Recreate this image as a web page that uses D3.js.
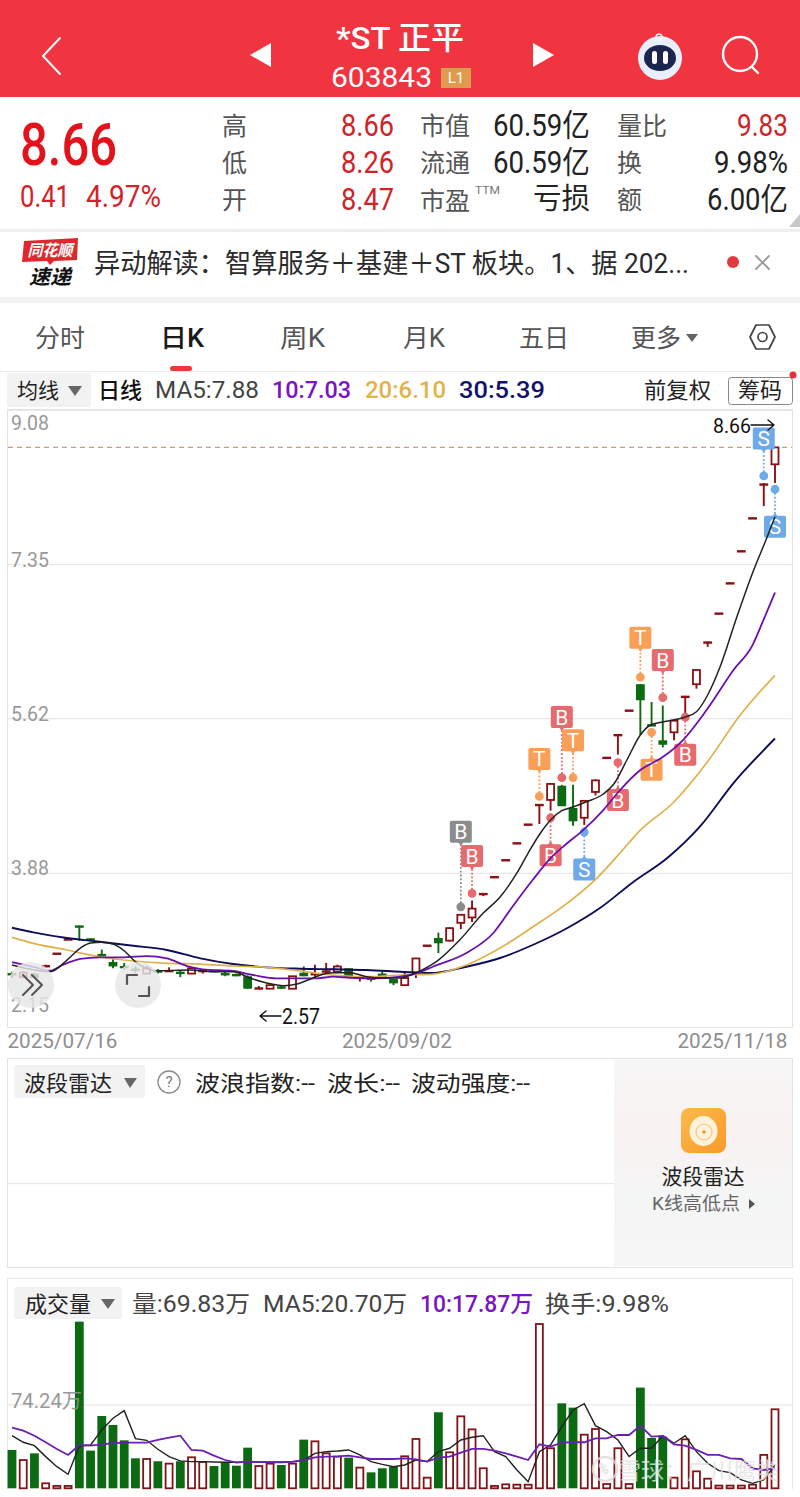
<!DOCTYPE html>
<html><head><meta charset="utf-8">
<script src="https://cdn.jsdelivr.net/npm/d3@7/dist/d3.min.js"></script>
<style>html,body{margin:0;padding:0;background:#fff}svg{display:block}</style>
</head><body><div id="c"></div>
<script>
// ---------- data ----------
const openP =[2.76,2.71,2.75,2.82,2.97,3.13,3.29,3.15,2.97,2.88,2.84,2.80,2.75,2.79,2.77,2.77,2.75,2.77,2.79,2.76,2.75,2.72,2.57,2.58,2.61,2.58,2.76,2.73,2.76,2.77,2.81,2.70,2.71,2.75,2.69,2.62,2.76,3.06,3.15,3.12,3.32,3.38,3.64,3.83,4.02,4.21,4.42,4.64,4.70,4.86,4.61,4.50,4.79,5.17,5.42,5.70,6.00,5.55,5.37,5.46,5.85,6.00,6.46,6.79,7.13,7.49,7.86,8.24,8.47];
const closeP=[2.73,2.76,2.70,2.85,2.98,3.14,3.27,3.12,2.95,2.83,2.81,2.79,2.81,2.76,2.79,2.75,2.81,2.79,2.77,2.73,2.72,2.58,2.60,2.62,2.58,2.72,2.72,2.76,2.79,2.83,2.71,2.71,2.68,2.70,2.64,2.70,2.92,3.07,3.09,3.26,3.41,3.48,3.65,3.84,4.03,4.22,4.43,4.65,4.88,4.63,4.46,4.69,4.92,5.18,5.44,5.71,5.82,5.53,5.32,5.59,5.87,6.16,6.48,6.80,7.14,7.50,7.87,8.25,8.66];
const highP =[2.77,2.78,2.76,2.85,2.98,3.14,3.29,3.15,3.02,2.91,2.87,2.83,2.84,2.80,2.82,2.78,2.82,2.79,2.79,2.77,2.75,2.73,2.61,2.63,2.62,2.72,2.83,2.85,2.87,2.85,2.81,2.71,2.72,2.77,2.69,2.76,2.92,3.07,3.21,3.27,3.41,3.57,3.65,3.84,4.03,4.22,4.43,4.65,4.89,4.87,4.87,4.69,4.93,5.18,5.44,5.71,6.00,5.80,5.76,5.59,5.87,6.16,6.48,6.80,7.14,7.50,7.87,8.26,8.66];
const lowP  =[2.70,2.71,2.70,2.82,2.97,3.13,3.12,3.12,2.95,2.81,2.79,2.75,2.75,2.75,2.77,2.71,2.75,2.75,2.77,2.72,2.72,2.58,2.57,2.58,2.58,2.58,2.72,2.70,2.75,2.76,2.71,2.66,2.66,2.70,2.62,2.62,2.70,3.06,2.98,3.11,3.25,3.33,3.62,3.83,4.02,4.21,4.42,4.43,4.58,4.63,4.41,4.42,4.75,5.17,5.21,5.70,5.43,5.53,5.29,5.37,5.64,5.95,6.42,6.79,7.13,7.49,7.86,8.00,8.26];
const volume=[33.9,25.0,30.9,4.4,2.1,2.1,147.3,33.3,63.9,56.0,42.4,26.5,25.9,23.9,21.8,23.9,27.4,23.3,19.7,22.7,20.0,35.9,19.7,21.8,20.6,21.8,43.0,41.5,30.9,28.0,27.1,18.3,14.1,17.7,19.1,28.3,43.6,9.4,67.2,31.8,63.6,52.1,17.7,2.1,3.5,3.2,3.2,145.2,35.4,75.1,71.3,47.4,52.4,3.8,35.4,3.8,89.0,44.5,45.7,9.4,43.3,15.0,8.5,2.4,2.4,2.4,3.2,29.5,69.83];
const volMA5=[46.5,40.7,37.7,28.0,19.1,12.4,37.4,38.3,51.6,61.9,68.6,43.9,42.4,34.5,28.0,24.2,23.6,23.6,23.3,23.0,23.0,23.3,23.3,23.3,23.3,23.6,25.0,30.9,32.4,33.0,33.9,29.5,23.6,21.2,19.1,20.6,25.0,23.6,32.4,35.4,42.7,45.1,46.5,32.4,28.0,16.2,5.9,32.4,38.3,54.5,69.2,74.8,55.4,50.1,42.7,28.0,35.4,35.4,46.5,39.8,46.5,32.4,22.1,15.6,13.8,7.4,4.4,7.4,20.7];
const volMA10=[53.6,51.0,46.5,40.7,34.8,29.5,38.3,37.7,38.9,39.8,40.4,40.4,40.4,42.7,44.8,46.5,33.9,33.3,28.9,25.0,22.7,23.6,23.3,23.0,23.0,23.3,25.0,27.4,28.0,28.3,28.9,27.4,25.9,25.9,25.9,26.5,25.6,23.6,27.1,28.0,31.5,34.8,34.8,33.3,30.9,28.0,25.0,38.9,36.8,40.4,40.7,40.7,44.2,44.2,47.1,47.1,55.4,45.7,46.3,38.9,37.7,33.9,29.5,29.5,26.5,25.9,17.7,16.2,17.87];
const ma5Day=[0,3.4,4.9,6.1,7,8,9,10.1,11,11.7,12.9,15.9,17.9,19.7,21.2,22.7,24.2,25.4,26.6,27.5,28.6,30.1,31.6,33.1,34.6,35.7,37.1,38,39.9,42,43.5,45,46,47.1,48,49,50,51.2,52.7,53.7,54.8,56,56.9,58,60,61,62,63.1,64.6,66,67.3,68];
const ma5Val=[2.846,2.771,2.902,3.037,3.093,3.101,3.082,2.995,2.883,2.824,2.782,2.79,2.771,2.771,2.70,2.644,2.614,2.633,2.689,2.734,2.76,2.76,2.715,2.70,2.70,2.742,2.827,2.902,3.127,3.43,3.61,3.88,4.104,4.329,4.475,4.58,4.621,4.68,4.767,4.89,5.149,5.43,5.542,5.576,5.632,5.691,5.879,6.193,6.755,7.249,7.653,7.88];
const ma10Day=[0,1.9,3.4,4.5,6.1,7.8,9.9,12,13.8,15.6,17,19.7,21.5,23.6,25.7,27.2,28.6,30.1,32.5,34.6,36.1,37.5,40.5,42.9,44.6,46.4,48,49.5,50.9,52.7,54.2,56,58,59.8,61.9,64.3,66,66.9,68];
const ma10Val=[2.88,2.824,2.782,2.846,2.914,2.933,2.933,2.947,2.921,2.835,2.798,2.779,2.734,2.697,2.697,2.697,2.715,2.703,2.697,2.715,2.756,2.827,2.981,3.206,3.501,3.801,4.048,4.216,4.362,4.587,4.812,5.036,5.182,5.373,5.71,6.16,6.44,6.70,7.03];
const ma20Day=[0,1.9,4.9,7.8,10.8,13.8,16.8,19.7,22.7,25,27.2,28.6,31.6,34.6,37.3,40.5,43.5,46.4,49.5,51.8,53.9,56,58.9,61.9,64.9,68];
const ma20Val=[3.157,3.09,3.015,2.939,2.891,2.865,2.857,2.835,2.82,2.79,2.753,2.734,2.715,2.734,2.742,2.846,3.037,3.273,3.542,3.782,4.063,4.362,4.666,5.115,5.654,6.10];
const ma30Day=[0,1.9,4.9,7.8,10.8,13.8,16.8,19.7,22.7,25.7,28.6,31.6,34.6,37.3,40.5,43.5,46.4,49.5,52.4,55.4,58.4,61.3,64.3,68];
const ma30Val=[3.265,3.213,3.149,3.108,3.063,3.015,2.921,2.857,2.82,2.805,2.798,2.79,2.771,2.756,2.827,2.925,3.071,3.262,3.486,3.782,4.048,4.40,4.89,5.39];
const priceTicks=[9.08,7.35,5.62,3.88,2.15];
const dateTickDay=[0,34,68];
const dateLabels=["2025/07/16","2025/09/02","2025/11/18"];
const markerDay =[40,41,47,49,50,48,51,54,56,58,57,60,67,68];
const markerText=["B","B","T","B","T","B","S","B","T","B","T","B","S","S"];
const markerKind=["grey","buy","trade","buy","trade","buy","sell","buy","trade","buy","trade","buy","sell","sell"];
const markerPrice=[3.50,3.65,4.74,4.95,4.95,4.50,4.34,5.12,6.08,5.85,5.46,5.63,8.34,8.19];
const markerSide=[1,1,1,1,1,-1,-1,-1,1,1,-1,-1,1,-1];
const markerLift=[2,1,1,1.62,1,1,1,1,1.05,1,1,1,1,1];

// ---------- layout and helpers ----------
const W=800,H=1497,SANS="Roboto,'Noto Sans CJK SC',sans-serif";
const svg=d3.select("#c").append("svg").attr("width",W).attr("height",H).attr("viewBox",`0 0 ${W} ${H}`);
function T(x,y,s,size,fill,o={}){
  const e=(o.parent||svg).append("text").attr("x",x).attr("y",y).attr("dy","0.36em").text(s)
   .attr("font-family",o.font||SANS).attr("font-size",size).attr("fill",fill).attr("text-anchor",o.anchor||"start");
  if(o.w){e.attr("textLength",o.w).attr("lengthAdjust","spacingAndGlyphs");}
  if(o.weight)e.attr("font-weight",o.weight);
  if(o.style)e.attr("font-style",o.style);
  if(o.op!=null)e.attr("opacity",o.op);
  return e;
}
const R=(x,y,w,h,f,o={})=>svg.append("rect").attr("x",x).attr("y",y).attr("width",w).attr("height",h).attr("fill",f).attr("rx",o.rx||0).attr("stroke",o.s||"none").attr("stroke-width",o.sw||1);
const P=(d,f,s,sw,par)=>(par||svg).append("path").attr("d",d).attr("fill",f||"none").attr("stroke",s||"none").attr("stroke-width",sw||1).attr("stroke-linejoin","round").attr("stroke-linecap","round");

// ---------- header ----------
const RED="#f03440", DARK="#222", MID="#555";
R(0,0,W,97,RED);
P("M60,38 L43,56 L60,74",null,"#fff",2);
P("M271,43 L250,55 L271,67 Z","#fff");
P("M533,43 L554,55 L533,67 Z","#fff");
T(400,37,"*ST 正平",32,"#fff",{anchor:"middle",weight:500,w:128});
T(331,77,"603843",28,"#fff",{w:101});
R(441,68,30,20,"#e09a4e");
T(456,78,"L1",15,"#fff",{anchor:"middle"});
svg.append("circle").attr("cx",660).attr("cy",58).attr("r",22).attr("fill","#e8eefb");
svg.append("ellipse").attr("cx",660).attr("cy",58).attr("rx",16).attr("ry",13).attr("fill","#1c2550");
svg.append("rect").attr("x",652).attr("y",51).attr("width",5).attr("height",13).attr("rx",2.5).attr("fill","#fff");
svg.append("rect").attr("x",663).attr("y",51).attr("width",5).attr("height",13).attr("rx",2.5).attr("fill","#fff");
P("M656,37 a3,3 0 1 1 0,0.1",null,"#fff",1.5);
svg.append("circle").attr("cx",740).attr("cy",54).attr("r",17).attr("fill","none").attr("stroke","#fff").attr("stroke-width",2.4);
P("M752,67 L758,73",null,"#fff",2.4);

// ---------- quote block ----------
T(20,144,"8.66",59,"#e3131c",{w:97,weight:500});
T(20,196,"0.41",31,"#d5222a",{w:50});
T(86,196,"4.97%",31,"#d5222a",{w:75});
[["高",126],["低",163],["开",200]].forEach(d=>T(222,d[1],d[0],25,MID));
[["8.66",125],["8.26",162],["8.47",199]].forEach(d=>T(341,d[1],d[0],31,"#cf2329",{w:53}));
[["市值",126],["流通",163],["市盈",201]].forEach(d=>T(420,d[1],d[0],25,MID));
T(475,190,"TTM",11,"#777",{w:25});
T(493,125,"60.59亿",31,DARK,{w:97});
T(493,162,"60.59亿",31,DARK,{w:97});
T(533,199,"亏损",29,DARK,{w:57});
T(617,126,"量比",25,MID);
T(617,163,"换",25,MID);
T(617,200,"额",25,MID);
T(737,125,"9.83",31,"#cf2329",{w:51});
T(714,162,"9.98%",31,DARK,{w:74});
T(707,199,"6.00亿",31,DARK,{w:81});
P("M800,214 L800,227 L789,227 Z","#c8c8c8");
R(0,229,W,3,"#efefef");

// ---------- news banner ----------
P("M24,241 L78,238 L77,260 L54,261 L50,265 L47,261 L22,262 Z","#e0272e");
T(50,250,"同花顺",16,"#fff",{anchor:"middle",style:"italic",weight:700,w:45});
T(50,277,"速递",20,"#111",{anchor:"middle",style:"italic",weight:700,w:42});
T(94,263,"异动解读：智算服务＋基建＋ST 板块。1、据 202...",27,"#2b2b2b",{w:595});
svg.append("circle").attr("cx",733).attr("cy",262).attr("r",6).attr("fill","#e33a40");
P("M756,256 L769,269 M769,256 L756,269",null,"#999",1.8);
R(0,297,W,6,"#f2f2f2");

// ---------- tabs ----------
[["分时",35,50],["周K",280,45],["月K",403,42],["五日",519,50],["更多",631,50]].forEach(d=>T(d[1],338,d[0],25,"#555",{w:d[2]}));
T(160,338,"日K",25,"#1a1a1a",{w:44,weight:500});
P("M686,334 L698,334 L692,342 Z","#666");
P("M750,337 L756,325 L769,325 L775,337 L769,349 L756,349 Z",null,"#444",1.7);
svg.append("circle").attr("cx",762.5).attr("cy",337).attr("r",4.5).attr("fill","none").attr("stroke","#444").attr("stroke-width",1.7);
R(170,366,22,5,"#e63c3c",{rx:2.5});
R(0,371,W,1,"#ececec");

// ---------- indicator row ----------
R(7,373,84,34,"#f2f2f2",{rx:3});
T(17,390,"均线",21,"#222");
P("M68,386 L82,386 L75,396 Z","#666");
T(98,390,"日线",22,"#111",{weight:500});
T(155,390,"MA5:7.88",23,"#444",{w:104});
T(272,390,"10:7.03",23,"#7a14c4",{w:79,weight:500});
T(365,390,"20:6.10",23,"#e3b34a",{w:81,weight:500});
T(459,390,"30:5.39",23,"#12126e",{w:86,weight:500});
T(644,390,"前复权",22,"#222",{w:67});
R(728.5,377.5,64,27,"#fff",{rx:3,s:"#888",sw:1});
T(760,390,"筹码",22,"#222",{anchor:"middle",w:44});
svg.append("circle").attr("cx",793).attr("cy",375).attr("r",3.5).attr("fill","#e5303a");

// ---------- price panel ----------
const xDay=d3.scaleLinear().domain([0,68]).range([12,775]);
const yPrice=d3.scaleLinear().domain([2.15,9.08]).range([1027,410]);
R(7.5,409.5,785,618,"#fff",{s:"#e4e4e4",sw:1.2});
const gridAxis=d3.axisRight(yPrice).tickValues(priceTicks).tickSize(785).tickFormat(d3.format(".2f"));
const gA=svg.append("g").attr("transform","translate(7.5,0)").call(gridAxis);
gA.select(".domain").remove();
gA.selectAll(".tick line").attr("stroke","#e8e8e8").attr("stroke-width",1.2);
gA.selectAll(".tick text").attr("x",3.5).attr("font-family",SANS).attr("font-size",20).attr("fill","#999")
  .attr("textLength",38).attr("lengthAdjust","spacingAndGlyphs")
  .attr("dy",(d,i)=>i===0?"0.95em":i===4?"-0.8em":"0.1em");
svg.append("line").attr("x1",8).attr("x2",792).attr("y1",yPrice(closeP[68])).attr("y2",yPrice(closeP[68])).attr("stroke","#c89b82").attr("stroke-width",1.1).attr("stroke-dasharray","5 4");

const CAND_UP="#8a1014",CAND_DN="#0b6a12",BW=8.8;
const cg=svg.append("g");
closeP.forEach((c,i)=>{
  const o=openP[i],up=c>=o,col=up?CAND_UP:CAND_DN,x=xDay(i);
  cg.append("line").attr("x1",x).attr("x2",x).attr("y1",yPrice(highP[i])).attr("y2",yPrice(lowP[i])).attr("stroke",col).attr("stroke-width",1.9);
  const yt=yPrice(Math.max(o,c)),yb=yPrice(Math.min(o,c)),h=yb-yt;
  if(h<3){cg.append("rect").attr("x",x-BW/2).attr("y",(yt+yb)/2-1).attr("width",BW).attr("height",2.4).attr("fill",col);}
  else if(up){cg.append("rect").attr("x",x-BW/2+.9).attr("y",yt).attr("width",BW-1.8).attr("height",h).attr("fill","#fff").attr("stroke",col).attr("stroke-width",1.8);}
  else{cg.append("rect").attr("x",x-BW/2).attr("y",yt).attr("width",BW).attr("height",h).attr("fill",col);}
});

// markers
const MCOL={grey:"#8c8c8c",buy:"#e66a6e",trade:"#fa9f58",sell:"#6ea9ea"};
const STEM=37.5;
const mg=svg.append("g");
markerDay.forEach((d,i)=>{
  const x=xDay(d),y=yPrice(markerPrice[i]),s=markerSide[i],by=y-s*STEM*markerLift[i],col=MCOL[markerKind[i]];
  mg.append("line").attr("x1",x).attr("x2",x).attr("y1",y).attr("y2",by).attr("stroke",col).attr("stroke-width",1.8).attr("stroke-dasharray","1.8 2");
  mg.append("circle").attr("cx",x).attr("cy",y).attr("r",4.4).attr("fill",col);
  mg.append("path").attr("d",`M${x-3},${by+s*10} L${x+3},${by+s*10} L${x},${by+s*14} Z`).attr("fill",col);
  mg.append("rect").attr("x",x-11).attr("y",by-11).attr("width",22).attr("height",22).attr("rx",2).attr("fill",col);
  T(x,by,markerText[i],21,"#fff",{anchor:"middle",parent:mg});
});

// moving averages
const lineFrom=(a,b,y,c)=>d3.line().x((_,i)=>xDay(a?a[i]:i)).y((_,i)=>y(b[i])).curve(c);
[[ma30Day,ma30Val,"#0d0d58",1.9],[ma20Day,ma20Val,"#e0b04c",1.7],[ma10Day,ma10Val,"#6a10b0",1.8],[ma5Day,ma5Val,"#222",1.5]].forEach(m=>{
  svg.append("path").attr("d",lineFrom(m[0],m[1],yPrice,d3.curveMonotoneX)(m[1])).attr("fill","none").attr("stroke",m[2]).attr("stroke-width",m[3]);
});

// labels on chart
T(713,425,"8.66",21,"#111",{w:38});
P("M751,425 L774,425 M768,420 L774,425 L768,430",null,"#111",1.4);
T(282,1016,"2.57",22,"#111",{w:38});
P("M281,1016 L260,1016 M266,1011 L260,1016 L266,1021",null,"#111",1.4);

// floating buttons
[[31,985],[138,985]].forEach(c=>svg.append("circle").attr("cx",c[0]).attr("cy",c[1]).attr("r",23).attr("fill","#e6e6e6").attr("opacity",.82));
P("M23,975 L33,985 L23,995 M32,975 L42,985 L32,995",null,"#555",2);
P("M127,984 L127,975 L137,975 M139,996 L149,996 L149,987",null,"#555",2.2);

// date axis
const dateAxis=d3.axisBottom(xDay).tickValues(dateTickDay).tickSize(0).tickFormat((_,i)=>dateLabels[i]);
const gD=svg.append("g").attr("transform","translate(0,1032)").call(dateAxis);
gD.select(".domain").remove();
gD.selectAll("text").attr("font-family",SANS).attr("font-size",20).attr("fill","#8e8e8e").attr("dy","0.8em").attr("y",0)
  .attr("text-anchor",(_,i)=>i===0?"start":i===2?"end":"middle")
  .attr("dx",(_,i)=>i===0?-5:i===2?12:3).attr("textLength",110).attr("lengthAdjust","spacingAndGlyphs");

// ---------- radar panel ----------
R(7.5,1058.5,785,209,"#fff",{s:"#e4e4e4",sw:1.2});
R(14,1065,131,33,"#f2f2f2",{rx:3});
T(24,1083,"波段雷达",22,"#222");
P("M124,1078 L137,1078 L130,1088 Z","#666");
svg.append("circle").attr("cx",169).attr("cy",1082).attr("r",11).attr("fill","none").attr("stroke","#888").attr("stroke-width",1.3);
T(169,1082,"?",15,"#777",{anchor:"middle"});
T(195,1083,"波浪指数:--",22,"#222",{w:120});
T(327,1083,"波长:--",22,"#222",{w:73});
T(411,1083,"波动强度:--",22,"#222",{w:119});
R(8,1183,606,1.2,"#e8e8e8");
const defs=svg.append("defs");
const lg=defs.append("linearGradient").attr("id","rg").attr("x1",0).attr("y1",0).attr("x2",0).attr("y2",1);
[[0,"#f7f6f6"],[.35,"#f8f2f1"],[.65,"#f4f5f5"],[1,"#f6f6f6"]].forEach(s=>lg.append("stop").attr("offset",s[0]).attr("stop-color",s[1]));
R(614,1060,178,206,"url(#rg)");
const ig=defs.append("linearGradient").attr("id","ig").attr("x1",0).attr("y1",0).attr("x2",1).attr("y2",1);
ig.append("stop").attr("offset",0).attr("stop-color","#fdb94e");ig.append("stop").attr("offset",1).attr("stop-color","#f99a28");
R(681,1108,45,45,"url(#ig)",{rx:8});
svg.append("ellipse").attr("cx",703.5).attr("cy",1131).attr("rx",14).attr("ry",15).attr("fill","#fdf3dc");
svg.append("circle").attr("cx",704).attr("cy",1132).attr("r",8).attr("fill","none").attr("stroke","#f4c77e").attr("stroke-width",1.2);
svg.append("circle").attr("cx",704).attr("cy",1132).attr("r",1.8).attr("fill","#e89a30");
T(703,1176,"波段雷达",21,"#222",{anchor:"middle",w:83});
T(652,1204,"K线高低点",18,"#666",{w:88});
P("M749,1199 L755,1204 L749,1209 Z","#555");

// ---------- volume panel ----------
R(7.5,1278.5,785,215,"#fff",{s:"#e8e8e8",sw:1});
R(0,1489,W,8,"#fff");
R(14,1287,108,32,"#f2f2f2",{rx:3});
T(25,1304,"成交量",22,"#222");
P("M101,1299 L115,1299 L108,1309 Z","#666");
T(132,1304,"量:69.83万",23,"#444",{w:118});
T(263,1304,"MA5:20.70万",23,"#444",{w:144});
T(420,1304,"10:17.87万",23,"#7a14c4",{w:113,weight:500});
T(545,1304,"换手:9.98%",23,"#444",{w:124});
const yVol=d3.scaleLinear().domain([0,148.48]).range([1488.3,1320.3]);
const volAxis=d3.axisRight(yVol).tickValues([74.24]).tickSize(785).tickFormat(()=>"");
const gV=svg.append("g").attr("transform","translate(7.5,0)").call(volAxis);
gV.select(".domain").remove();
gV.selectAll(".tick line").attr("stroke","#e8e8e8").attr("stroke-width",1.2);
const vg=svg.append("g");
volume.forEach((v,i)=>{
  const up=closeP[i]>=openP[i],x=xDay(i),t=yVol(v),h=yVol(0)-t;
  if(up)vg.append("rect").attr("x",x-BW/2+.9).attr("y",t).attr("width",BW-1.8).attr("height",h).attr("fill","#fff").attr("stroke","#7f1418").attr("stroke-width",1.8);
  else vg.append("rect").attr("x",x-BW/2).attr("y",t).attr("width",BW).attr("height",h).attr("fill",CAND_DN);
});
svg.append("path").attr("d",lineFrom(null,volMA5,yVol,d3.curveLinear)(volMA5)).attr("fill","none").attr("stroke","#222").attr("stroke-width",1.4);
svg.append("path").attr("d",lineFrom(null,volMA10,yVol,d3.curveLinear)(volMA10)).attr("fill","none").attr("stroke","#6a20b0").attr("stroke-width",1.8);
T(11,1401,"74.24万",20,"#8e8e8e",{w:71,op:.9});

// watermark
const wm=svg.append("g").attr("opacity",.8);
wm.append("circle").attr("cx",605).attr("cy",1469).attr("r",12).attr("fill","none").attr("stroke","#dcdcdc").attr("stroke-width",2.5);
T(598,1469,"%",15,"#dcdcdc",{parent:wm,weight:700});
T(618,1471,"雪球：广川鹰类",23,"#e2e2e2",{parent:wm});
</script></body></html>
